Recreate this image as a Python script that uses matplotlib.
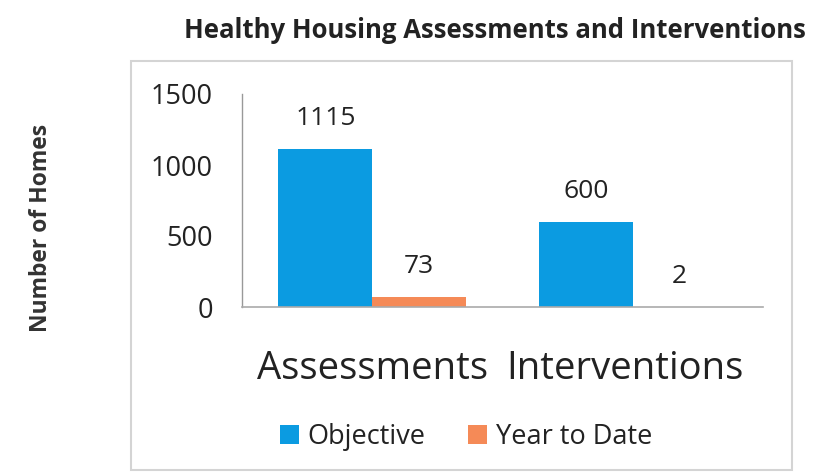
import matplotlib.pyplot as plt
from matplotlib.patches import Rectangle
from matplotlib.transforms import ScaledTranslation
import numpy as np

categories = ["Assessments", "Interventions"]
objective = [1115, 600]
year_to_date = [73, 2]
series_names = ["Objective", "Year to Date"]
y_ticks = [0, 500, 1000, 1500]

blue = "#0B9BE1"
orange = "#F58A57"

plt.rcParams['font.family'] = ['Open Sans', 'DejaVu Sans']

fig = plt.figure(figsize=(8.17, 4.72), dpi=100)
ax = fig.add_axes([242/817, 1 - 307/472, (763 - 242)/817, (307 - 94)/472])

# light grey frame around the chart area
fig.patches.append(Rectangle((131/817, 0.004), (792 - 131)/817, 1 - 61/472 - 0.004,
                             transform=fig.transFigure, fill=False,
                             edgecolor="#D4D4D4", linewidth=1.5))

x = np.arange(len(categories))
w = 0.36
b1 = ax.bar(x - w/2, objective, w, color=blue, label=series_names[0])
b2 = ax.bar(x + w/2, year_to_date, w, color=orange, label=series_names[1])

for bars, vals in [(b1, objective), (b2, year_to_date)]:
    for bar, v in zip(bars, vals):
        ax.annotate(str(v), (bar.get_x() + bar.get_width()/2, v),
                    xytext=(0, 13), textcoords="offset points",
                    ha="center", va="bottom", fontsize=19, color="#222222")

ax.set_xlim(-0.5, 1.5)
ax.set_ylim(0, 1500)
ax.set_yticks(y_ticks)
ax.tick_params(axis="y", length=0, pad=21, labelsize=19.5, labelcolor="#222222")
ax.set_xticks(x)
ax.set_xticklabels(categories)
ax.tick_params(axis="x", length=0, pad=31, labelsize=27.5, labelcolor="#222222")
# nudge the second category label a bit left, like the original
lbl = ax.get_xticklabels()[1]
lbl.set_transform(lbl.get_transform() + ScaledTranslation(-8/100, 0, fig.dpi_scale_trans))

for s in ["top", "right"]:
    ax.spines[s].set_visible(False)
ax.spines["left"].set_color("#999999")
ax.spines["bottom"].set_color("#AAAAAA")
ax.spines["left"].set_linewidth(1)
ax.spines["bottom"].set_linewidth(1.2)

fig.text(495/817, 1 - 30/472, "Healthy Housing Assessments and Interventions",
         ha="center", va="center", fontsize=18.5, fontweight="bold", color="#222222")
fig.text(41/817, 1 - 228/472, "Number of Homes", rotation=90,
         ha="center", va="center", fontsize=16.5, fontweight="bold", color="#333333")

fig.legend(loc="center", bbox_to_anchor=(466/817, 1 - 437/472), ncol=2,
           frameon=False, fontsize=19.5, handlelength=0.7, handleheight=0.7,
           handletextpad=0.3, columnspacing=1.6, labelcolor="#222222")

fig.savefig("out.png", dpi=100)
